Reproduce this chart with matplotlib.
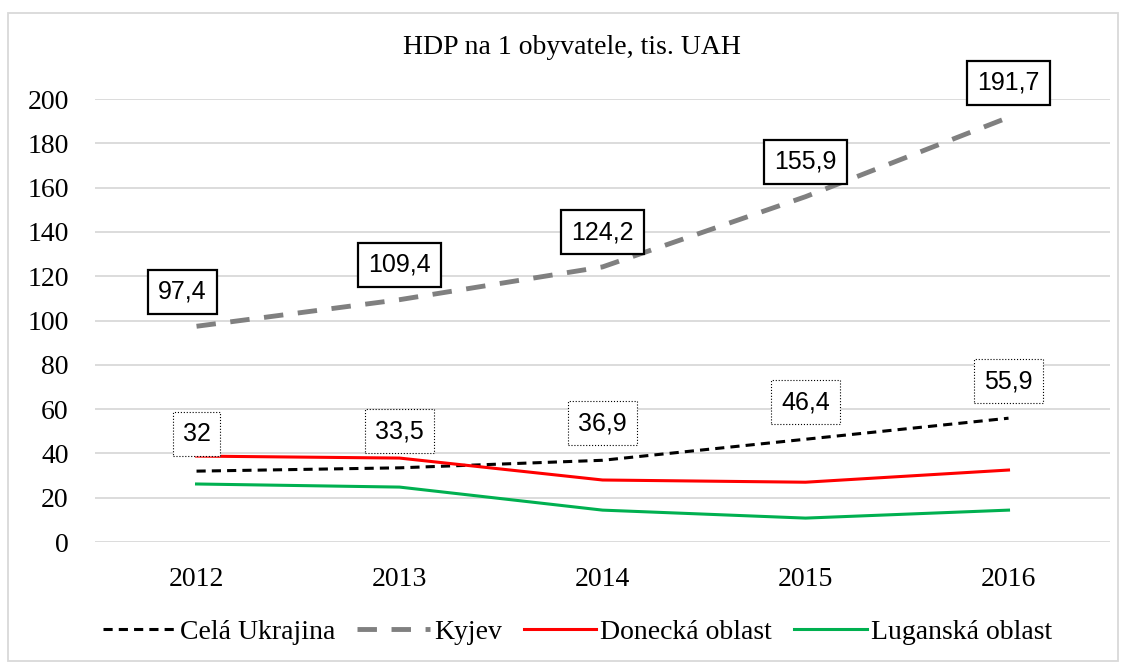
import matplotlib
matplotlib.use('Agg')
from matplotlib import pyplot as plt
from matplotlib.patches import Rectangle

years = ['2012', '2013', '2014', '2015', '2016']
cela_ukrajina = [32, 33.5, 36.9, 46.4, 55.9]
kyjev = [97.4, 109.4, 124.2, 155.9, 191.7]
donecka = [38.8, 37.9, 28.0, 27.0, 32.5]
luganska = [26.2, 24.8, 14.4, 10.8, 14.4]
yticks = list(range(0, 201, 20))

serif = 'Liberation Serif'
sans = 'Liberation Sans'
plt.rcParams['font.family'] = [serif, 'DejaVu Serif']

fig = plt.figure(figsize=(11.26, 6.64), dpi=100)
ax = fig.add_axes([0.0844, 0.1837, 0.9014, 0.6672])

x = range(len(years))
ax.plot(x, cela_ukrajina, color='black', lw=2.2, ls=(0, (3, 2)), label='Celá Ukrajina')
ax.plot(x, kyjev, color='#808080', lw=3.5, ls=(0, (4, 3)), label='Kyjev')
ax.plot(x, donecka, color='#FF0000', lw=2.2, label='Donecká oblast')
ax.plot(x, luganska, color='#00B050', lw=2.2, label='Luganská oblast')

# data labels
for i, v in enumerate(kyjev):
    dx = -10 if i == 0 else 0
    ax.annotate(f'{v}'.replace('.', ','), (i, v), xytext=(dx, 25),
                textcoords='offset points', ha='center', va='center',
                fontsize=18, family=sans, annotation_clip=False,
                bbox=dict(boxstyle='square,pad=0.4', fc='white', ec='black', lw=1.6))
for i, v in enumerate(cela_ukrajina):
    s = f'{v:g}'.replace('.', ',')
    ax.annotate(s, (i, v), xytext=(0, 26.5),
                textcoords='offset points', ha='center', va='center',
                fontsize=18, family=sans, annotation_clip=False,
                bbox=dict(boxstyle='square,pad=0.4', fc='white', ec='black', lw=0.8, ls=':'))

ax.set_xlim(-0.5, 4.5)
ax.set_ylim(0, 200)
ax.set_xticks(list(x))
ax.set_xticklabels(years)
ax.set_yticks(yticks)
ax.tick_params(length=0, labelsize=20, pad=18)
ax.tick_params(axis='y', pad=19)
ax.grid(axis='y', color='#D9D9D9', lw=1.3)
ax.set_axisbelow(True)
for sp in ax.spines.values():
    sp.set_visible(False)

fig.text(0.508, 0.928, 'HDP na 1 obyvatele, tis. UAH', ha='center', va='center',
         fontsize=20)

fig.legend(loc='center', bbox_to_anchor=(0.513, 0.048), ncol=4, frameon=False,
           prop={'size': 20}, handlelength=2.6, handletextpad=0.15,
           columnspacing=0.8)

fig.patches.append(Rectangle((8 / 1126, 0.005), 1110 / 1126, 1 - 13 / 664 - 0.005,
                             transform=fig.transFigure, fill=False, ec='#D9D9D9', lw=1.3))

fig.savefig('out.png', dpi=100)
